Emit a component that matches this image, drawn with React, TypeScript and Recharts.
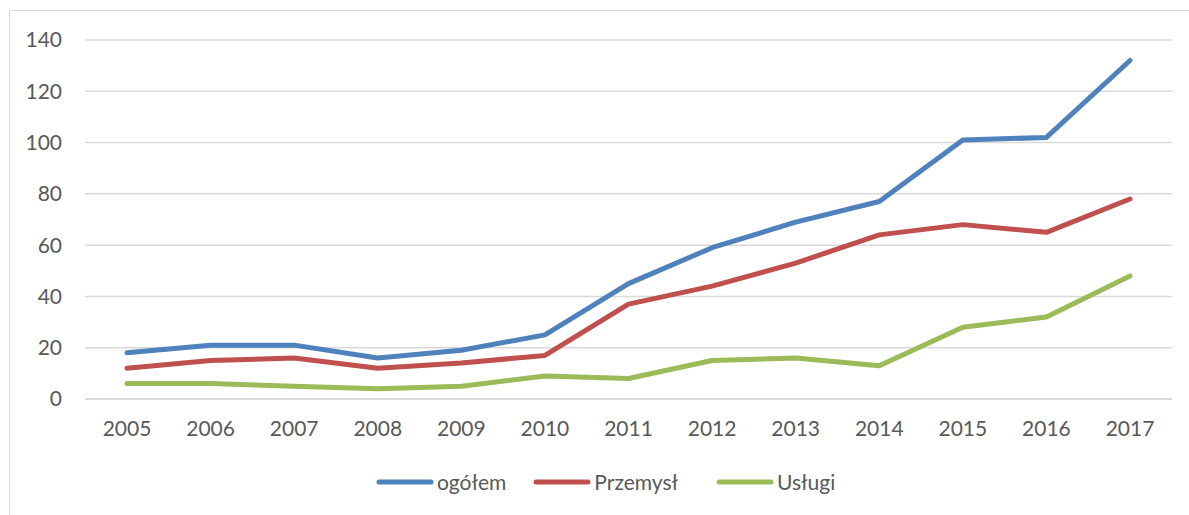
import { LineChart, Line, XAxis, YAxis, CartesianGrid } from 'recharts';

const years = ['2005', '2006', '2007', '2008', '2009', '2010', '2011', '2012', '2013', '2014', '2015', '2016', '2017'];
const ogolem = [18, 21, 21, 16, 19, 25, 45, 59, 69, 77, 101, 102, 132];
const przemysl = [12, 15, 16, 12, 14, 17, 37, 44, 53, 64, 68, 65, 78];
const uslugi = [6, 6, 5, 4, 5, 9, 8, 15, 16, 13, 28, 32, 48];
const yTicks = [0, 20, 40, 60, 80, 100, 120, 140];

const seriesNames = ['ogółem', 'Przemysł', 'Usługi'];
const seriesColors = ['#4f81bd', '#c0504d', '#9bbb59'];
const legendGaps = [27, 38, 0];

const chartData = years.map((year, i) => ({
  year,
  ogolem: ogolem[i],
  przemysl: przemysl[i],
  uslugi: uslugi[i],
}));

const FONT = 'Lato, "Open Sans", sans-serif';
const TEXT = '#595959';
const GRID = '#d9d9d9';

function ChartLegend() {
  return (
    <div
      style={{
        position: 'absolute',
        left: 376,
        top: 469,
        display: 'flex',
        alignItems: 'center',
        fontFamily: FONT,
        fontSize: 21,
        color: TEXT,
      }}
    >
      {seriesNames.map((name, i) => (
        <div key={name} style={{ display: 'flex', alignItems: 'center', marginRight: legendGaps[i] }}>
          <svg width={58} height={10} style={{ marginRight: 3 }}>
            <line x1={3} y1={5} x2={55} y2={5} stroke={seriesColors[i]} strokeWidth={5} strokeLinecap="round" />
          </svg>
          <span>{name}</span>
        </div>
      ))}
    </div>
  );
}

export default function App() {
  return (
    <div style={{ position: 'absolute', left: 0, top: 0, width: 1189, height: 515, background: '#fff', overflow: 'hidden' }}>
      <div
        style={{
          position: 'absolute',
          left: 9,
          top: 10,
          width: 1200,
          height: 520,
          border: `1px solid ${GRID}`,
        }}
      />
      <div style={{ position: 'absolute', left: 0, top: 0 }}>
        <LineChart width={1189} height={515} data={chartData} margin={{ top: 40, right: 17, left: 0, bottom: 0 }}>
          <CartesianGrid vertical={false} stroke={GRID} strokeWidth={1.5} />
          <XAxis
            dataKey="year"
            axisLine={{ stroke: GRID, strokeWidth: 1.5 }}
            tickLine={false}
            tickMargin={16}
            padding={{ left: 42, right: 42 }}
            tick={{ fill: TEXT, fontSize: 21, fontFamily: FONT }}
            height={116}
          />
          <YAxis
            width={85}
            domain={[0, 140]}
            ticks={yTicks}
            axisLine={false}
            tickLine={false}
            tickMargin={17}
            tick={{ fill: TEXT, fontSize: 21, fontFamily: FONT }}
          />
          <Line
            dataKey="ogolem"
            name={seriesNames[0]}
            stroke={seriesColors[0]}
            strokeWidth={5}
            strokeLinecap="round"
            strokeLinejoin="round"
            dot={false}
            activeDot={false}
            isAnimationActive={false}
          />
          <Line
            dataKey="przemysl"
            name={seriesNames[1]}
            stroke={seriesColors[1]}
            strokeWidth={5}
            strokeLinecap="round"
            strokeLinejoin="round"
            dot={false}
            activeDot={false}
            isAnimationActive={false}
          />
          <Line
            dataKey="uslugi"
            name={seriesNames[2]}
            stroke={seriesColors[2]}
            strokeWidth={5}
            strokeLinecap="round"
            strokeLinejoin="round"
            dot={false}
            activeDot={false}
            isAnimationActive={false}
          />
        </LineChart>
      </div>
      <ChartLegend />
    </div>
  );
}
